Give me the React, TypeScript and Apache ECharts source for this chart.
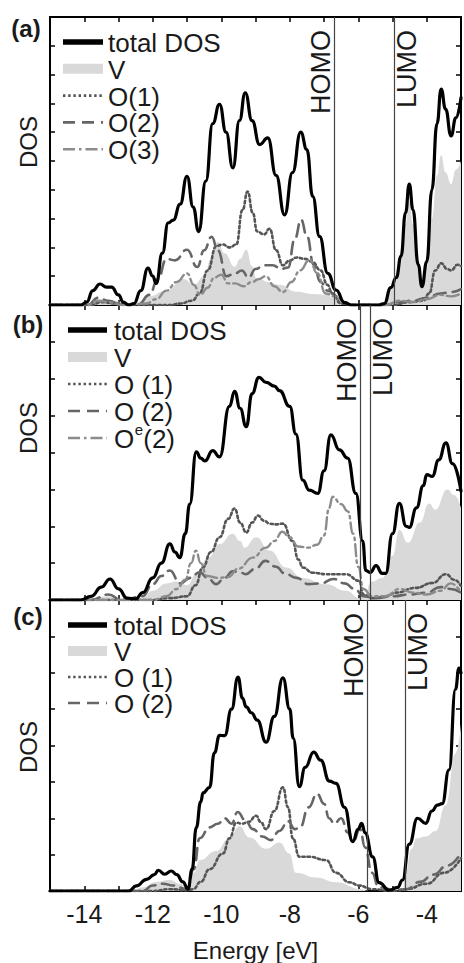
import React, { useEffect, useRef } from "react";
import * as echarts from "echarts";

const FONT = "'Liberation Sans', Arial, Helvetica, sans-serif";
const X_MIN = -15;
const X_MAX = -3;
const xTickLabels = ["-14", "-12", "-10", "-8", "-6", "-4"];
const yMaxByPanel = [10, 8, 8];
const panelLabels = ["(a)", "(b)", "(c)"];

// HOMO / LUMO energies per panel
const levelsA = [-6.71, -4.96];
const levelsB = [-5.94, -5.65];
const levelsC = [-5.74, -4.64];

// ---------- panel (a) ----------
const aTotal = [
  [-15, 0], [-14.1, 0], [-13.93, 0.1], [-13.75, 0.5], [-13.54, 0.73], [-13.35, 0.62], [-13.2, 0.62],
  [-13.0, 0.35], [-12.86, 0.1], [-12.7, 0], [-12.55, 0.05], [-12.35, 0.5], [-12.14, 1.28], [-12.0, 1.0],
  [-11.9, 0.75], [-11.72, 1.8], [-11.55, 2.85], [-11.4, 2.95], [-11.2, 3.5], [-11.0, 4.47], [-10.82, 3.4],
  [-10.66, 2.55], [-10.45, 4.3], [-10.25, 6.3], [-10.05, 6.97], [-9.86, 6.0], [-9.66, 4.76], [-9.47, 6.4],
  [-9.3, 7.37], [-9.1, 6.4], [-8.88, 5.57], [-8.64, 5.8], [-8.4, 4.5], [-8.15, 3.13], [-7.92, 4.6],
  [-7.68, 6.0], [-7.5, 5.4], [-7.33, 3.77], [-7.13, 2.38], [-6.89, 1.1], [-6.65, 0.52], [-6.4, 0.08],
  [-6.2, 0], [-5.4, 0], [-5.24, 0.05], [-5.05, 0.6], [-4.89, 0.95], [-4.75, 1.7], [-4.62, 3.2],
  [-4.51, 4.2], [-4.4, 3.3], [-4.25, 1.4], [-4.14, 0.64], [-4.0, 1.5], [-3.85, 4.0], [-3.7, 6.3],
  [-3.58, 7.5], [-3.45, 6.8], [-3.29, 5.87], [-3.15, 6.5], [-3.0, 7.2],
];
const aV = [
  [-15, 0], [-13.9, 0], [-13.5, 0.2], [-13.1, 0.15], [-12.8, 0], [-12.4, 0.05], [-12.1, 0.3],
  [-11.6, 0.5], [-11.1, 0.9], [-10.8, 0.7], [-10.5, 1.0], [-10.3, 1.6], [-10.1, 2.2], [-9.9, 1.8],
  [-9.61, 1.33], [-9.45, 1.6], [-9.27, 1.92], [-9.1, 1.35], [-8.98, 0.95], [-8.6, 0.8], [-8.3, 0.7],
  [-7.81, 0.46], [-7.3, 0.38], [-6.94, 0.35], [-6.7, 0.25], [-6.4, 0.05], [-6.2, 0], [-5.4, 0],
  [-5.24, 0.05], [-5.05, 0.55], [-4.89, 0.85], [-4.75, 1.5], [-4.62, 2.8], [-4.51, 3.6], [-4.4, 2.8],
  [-4.25, 1.2], [-4.14, 0.6], [-4.0, 1.3], [-3.85, 3.0], [-3.7, 4.5], [-3.58, 5.2], [-3.45, 4.6],
  [-3.29, 4.2], [-3.15, 4.7], [-3.0, 5.0],
];
const aO1 = [
  [-15, 0], [-13.8, 0], [-13.5, 0.1], [-13.1, 0.05], [-12.5, 0], [-11.5, 0], [-11.2, 0.05],
  [-10.85, 0.15], [-10.63, 0.4], [-10.4, 1.2], [-10.14, 2.05], [-9.96, 2.1], [-9.75, 2.0], [-9.56, 2.1],
  [-9.38, 3.3], [-9.23, 3.94], [-9.08, 3.2], [-8.95, 2.55], [-8.75, 2.45], [-8.59, 2.65], [-8.4, 1.9],
  [-8.2, 1.38], [-8.0, 1.55], [-7.8, 1.65], [-7.55, 1.6], [-7.34, 1.5], [-7.1, 1.2], [-6.9, 0.7],
  [-6.76, 0.4], [-6.5, 0.05], [-6.2, 0], [-5.0, 0], [-4.5, 0.1], [-4.1, 0.15], [-3.93, 0.4],
  [-3.75, 1.2], [-3.58, 1.45], [-3.4, 1.25], [-3.29, 1.2], [-3.1, 1.4], [-3.0, 1.35],
];
const aO2 = [
  [-15, 0], [-13.9, 0], [-13.6, 0.25], [-13.3, 0.15], [-12.9, 0], [-12.4, 0.05], [-12.1, 0.35],
  [-11.85, 0.9], [-11.6, 1.6], [-11.35, 1.55], [-11.0, 1.92], [-10.7, 1.32], [-10.5, 1.9], [-10.28, 2.37],
  [-10.1, 1.9], [-9.85, 1.0], [-9.6, 1.1], [-9.4, 1.2], [-9.2, 0.95], [-9.0, 1.25], [-8.75, 1.38],
  [-8.5, 1.38], [-8.25, 1.25], [-8.05, 1.3], [-7.85, 2.3], [-7.67, 2.96], [-7.5, 2.4], [-7.3, 1.4],
  [-7.1, 0.8], [-6.9, 0.5], [-6.6, 0.3], [-6.4, 0.1], [-6.2, 0], [-5.2, 0], [-4.8, 0.1], [-4.4, 0.15],
  [-4.0, 0.25], [-3.6, 0.4], [-3.3, 0.45], [-3.0, 0.55],
];
const aO3 = [
  [-15, 0], [-13.9, 0], [-13.6, 0.15], [-13.3, 0.1], [-12.9, 0], [-12.2, 0.05], [-11.9, 0.2],
  [-11.6, 0.5], [-11.3, 0.8], [-11.0, 1.1], [-10.8, 0.7], [-10.62, 0.35], [-10.4, 0.6], [-10.2, 0.95],
  [-10.0, 1.05], [-9.8, 0.75], [-9.6, 0.75], [-9.35, 0.65], [-9.1, 0.8], [-8.9, 0.9], [-8.7, 1.0],
  [-8.45, 0.65], [-8.2, 0.45], [-7.95, 0.8], [-7.7, 1.2], [-7.42, 1.57], [-7.2, 1.1], [-6.95, 0.4],
  [-6.7, 0.3], [-6.4, 0.1], [-6.2, 0], [-5.2, 0], [-4.8, 0.15], [-4.4, 0.1], [-4.0, 0.2], [-3.6, 0.35],
  [-3.3, 0.3], [-3.0, 0.4],
];

// ---------- panel (b) ----------
const bTotal = [
  [-15, 0], [-14.1, 0], [-13.8, 0.1], [-13.5, 0.35], [-13.25, 0.57], [-13.0, 0.3], [-12.75, 0.05],
  [-12.5, 0.03], [-12.29, 0.2], [-12.0, 0.6], [-11.75, 1.0], [-11.5, 1.52], [-11.35, 1.3], [-11.21, 1.15],
  [-11.05, 1.8], [-10.92, 2.6], [-10.73, 4.02], [-10.6, 3.85], [-10.48, 3.77], [-10.25, 4.05],
  [-10.05, 3.88], [-9.76, 5.25], [-9.61, 5.66], [-9.45, 5.2], [-9.27, 4.7], [-9.1, 5.6], [-8.9, 6.04],
  [-8.69, 5.9], [-8.45, 5.8], [-8.3, 5.68], [-8.0, 5.25], [-7.82, 4.5], [-7.62, 3.25], [-7.43, 2.98],
  [-7.18, 2.89], [-7.0, 3.5], [-6.8, 4.48], [-6.55, 4.07], [-6.31, 3.85], [-6.07, 2.89], [-5.87, 1.6],
  [-5.78, 0.8], [-5.65, 0.75], [-5.48, 0.93], [-5.3, 0.72], [-5.2, 0.72], [-5.0, 1.8], [-4.8, 2.62],
  [-4.6, 2.0], [-4.51, 1.97], [-4.3, 2.5], [-4.1, 3.1], [-4.0, 3.4], [-3.84, 3.35], [-3.65, 3.8],
  [-3.44, 4.26], [-3.25, 3.7], [-3.0, 2.95],
];
const bV = [
  [-15, 0], [-13.9, 0], [-13.3, 0.1], [-12.8, 0], [-12.3, 0.05], [-12.0, 0.25], [-11.6, 0.45],
  [-11.3, 0.5], [-11.0, 0.4], [-10.7, 0.75], [-10.38, 1.15], [-10.05, 1.52], [-9.67, 1.8], [-9.45, 1.6],
  [-9.32, 1.42], [-8.98, 1.7], [-8.59, 1.34], [-8.1, 0.88], [-7.63, 0.6], [-6.94, 0.43], [-6.36, 0.25],
  [-5.95, 0.05], [-5.85, 0.1], [-5.6, 0.5], [-5.3, 0.6], [-5.0, 1.2], [-4.8, 1.9], [-4.55, 1.55],
  [-4.2, 2.1], [-3.93, 2.62], [-3.75, 2.45], [-3.4, 3.0], [-3.2, 2.85], [-3.0, 2.5],
];
const bO1 = [
  [-15, 0], [-12.0, 0], [-11.5, 0.05], [-11.0, 0.1], [-10.75, 0.4], [-10.54, 0.88], [-10.3, 1.3],
  [-10.05, 1.7], [-9.8, 2.2], [-9.61, 2.48], [-9.45, 2.1], [-9.27, 1.83], [-9.1, 2.1], [-8.93, 2.29],
  [-8.75, 2.15], [-8.59, 2.07], [-8.4, 2.05], [-8.2, 2.07], [-7.92, 1.6], [-7.75, 1.1], [-7.62, 0.88],
  [-7.33, 0.74], [-6.94, 0.7], [-6.36, 0.7], [-5.97, 0.52], [-5.85, 0.15], [-5.6, 0.05], [-5.2, 0.1],
  [-4.9, 0.2], [-4.32, 0.33], [-3.84, 0.46], [-3.44, 0.7], [-3.2, 0.55], [-3.0, 0.38],
];
const bO2 = [
  [-15, 0], [-13.8, 0], [-13.3, 0.15], [-12.9, 0], [-12.3, 0.1], [-12.0, 0.43], [-11.75, 0.65],
  [-11.5, 0.8], [-11.2, 0.45], [-10.9, 0.6], [-10.63, 0.75], [-10.4, 0.6], [-10.15, 0.43], [-9.9, 0.6],
  [-9.67, 0.78], [-9.45, 0.75], [-9.29, 0.7], [-9.0, 0.85], [-8.71, 1.06], [-8.4, 0.9], [-8.14, 0.72],
  [-7.8, 0.6], [-7.46, 0.43], [-7.1, 0.45], [-6.72, 0.57], [-6.4, 0.45], [-6.1, 0.3], [-5.85, 0.1],
  [-5.5, 0.05], [-5.0, 0.1], [-4.5, 0.15], [-4.0, 0.2], [-3.6, 0.35], [-3.3, 0.3], [-3.0, 0.2],
];
const bOe2 = [
  [-15, 0], [-12.0, 0], [-11.6, 0.1], [-11.3, 0.3], [-11.05, 0.55], [-10.88, 1.0], [-10.74, 1.34],
  [-10.6, 1.0], [-10.42, 0.65], [-10.1, 0.6], [-9.8, 0.62], [-9.5, 0.85], [-9.08, 1.15], [-8.7, 1.42],
  [-8.45, 1.6], [-8.22, 1.85], [-8.0, 1.7], [-7.75, 1.45], [-7.45, 1.42], [-7.2, 1.5], [-7.0, 1.75],
  [-6.85, 2.5], [-6.75, 2.8], [-6.5, 2.6], [-6.3, 2.4], [-6.15, 1.8], [-6.0, 0.9], [-5.85, 0.3],
  [-5.6, 0.1], [-5.2, 0.1], [-4.8, 0.3], [-4.4, 0.2], [-4.0, 0.15], [-3.6, 0.25], [-3.3, 0.45], [-3.0, 0.2],
];

// ---------- panel (c) ----------
const cTotal = [
  [-15, 0], [-12.7, 0], [-12.48, 0.14], [-12.18, 0.32], [-11.95, 0.45], [-11.84, 0.57], [-11.65, 0.46],
  [-11.46, 0.55], [-11.3, 0.45], [-11.12, 0.25], [-10.97, 0.05], [-10.85, 0.6], [-10.73, 1.74],
  [-10.6, 2.45], [-10.53, 2.7], [-10.34, 2.85], [-10.2, 3.8], [-10.05, 4.28], [-9.9, 4.27], [-9.7, 5.0],
  [-9.51, 5.88], [-9.38, 5.3], [-9.27, 5.06], [-9.12, 4.9], [-8.95, 4.7], [-8.69, 4.09], [-8.45, 4.8],
  [-8.2, 5.86], [-8.0, 5.0], [-7.9, 4.2], [-7.72, 2.87], [-7.55, 3.4], [-7.3, 3.82], [-7.1, 3.6],
  [-6.84, 3.02], [-6.65, 2.96], [-6.4, 2.3], [-6.16, 1.36], [-6.0, 1.7], [-5.9, 1.86], [-5.8, 1.6],
  [-5.58, 0.94], [-5.39, 0.23], [-5.1, 0.02], [-4.85, 0.1], [-4.71, 0.3], [-4.51, 1.29], [-4.27, 2.0],
  [-4.03, 1.86], [-3.85, 2.2], [-3.69, 2.36], [-3.55, 2.4], [-3.35, 3.33], [-3.16, 5.55], [-3.06, 6.13],
  [-3.0, 6.0],
];
const cV = [
  [-15, 0], [-12.6, 0], [-12.3, 0.1], [-11.9, 0.25], [-11.5, 0.3], [-11.2, 0.2], [-10.95, 0.05],
  [-10.8, 0.5], [-10.63, 0.85], [-10.15, 1.1], [-9.76, 1.45], [-9.47, 1.78], [-9.18, 1.47], [-8.69, 1.16],
  [-8.3, 1.33], [-8.01, 1.03], [-7.82, 0.5], [-7.24, 0.37], [-6.65, 0.24], [-5.9, 0.05], [-5.7, 0],
  [-4.7, 0], [-4.62, 0.5], [-4.45, 1.15], [-4.3, 1.45], [-4.03, 1.5], [-3.74, 1.65], [-3.45, 2.36],
  [-3.16, 3.78], [-3.0, 4.6],
];
const cO1 = [
  [-15, 0], [-12.0, 0], [-11.5, 0.05], [-11.0, 0.02], [-10.82, 0.05], [-10.6, 0.25], [-10.34, 0.6],
  [-9.95, 1.03], [-9.76, 1.45], [-9.56, 1.88], [-9.4, 1.85], [-9.2, 1.9], [-8.98, 2.07], [-8.85, 1.9],
  [-8.69, 1.7], [-8.45, 2.2], [-8.2, 2.85], [-8.05, 2.3], [-7.91, 1.45], [-7.72, 0.94], [-7.43, 0.94],
  [-6.94, 0.85], [-6.65, 0.5], [-6.26, 0.24], [-5.97, 0.15], [-5.6, 0.05], [-5.0, 0], [-4.6, 0.05],
  [-4.0, 0.2], [-3.5, 0.5], [-3.0, 0.9],
];
const cO2 = [
  [-15, 0], [-12.3, 0], [-12.0, 0.15], [-11.7, 0.2], [-11.4, 0.15], [-11.0, 0.05], [-10.8, 0.6],
  [-10.63, 1.45], [-10.34, 1.75], [-10.1, 1.85], [-9.9, 2.0], [-9.7, 1.85], [-9.52, 2.17], [-9.3, 1.95],
  [-9.08, 1.7], [-8.8, 1.5], [-8.55, 1.4], [-8.3, 1.65], [-8.05, 1.92], [-7.85, 1.7], [-7.7, 1.75],
  [-7.45, 2.3], [-7.2, 2.67], [-7.0, 2.4], [-6.85, 2.0], [-6.7, 1.85], [-6.5, 2.0], [-6.3, 1.6],
  [-6.16, 1.34], [-5.95, 1.7], [-5.8, 1.2], [-5.6, 0.5], [-5.4, 0.1], [-4.9, 0.02], [-4.6, 0.05],
  [-4.2, 0.25], [-3.8, 0.45], [-3.4, 0.7], [-3.0, 1.05],
];

const STYLE = {
  total: { color: "#000", width: 3.2, type: "solid" as any },
  o1: { color: "#555", width: 2.6, type: [2.4, 2.8] as any },
  o2: { color: "#666", width: 2.6, type: [12, 7] as any },
  o3: { color: "#8c8c8c", width: 2.4, type: [12, 4, 2.5, 4] as any },
};
const V_FILL = "#d9d9d9";
const TEXT = "#1a1a1a";
const LEG_FONT = 26;

const GRIDS = [
  { top: 17, height: 288 },
  { top: 305, height: 295 },
  { top: 600, height: 302 },
];

function lineSeries(name: string, data: number[][], gi: number, st: any, z: number) {
  return {
    name,
    type: "line",
    xAxisIndex: gi * 2,
    yAxisIndex: gi * 2,
    data,
    showSymbol: false,
    symbol: "none",
    smooth: 0.5,
    smoothMonotone: "x",
    clip: true,
    z,
    lineStyle: { color: st.color, width: st.width, type: st.type, cap: "round", join: "round" },
  };
}

function areaSeries(name: string, data: number[][], gi: number) {
  return {
    name,
    type: "line",
    xAxisIndex: gi * 2,
    yAxisIndex: gi * 2,
    data,
    showSymbol: false,
    symbol: "none",
    smooth: 0.5,
    smoothMonotone: "x",
    clip: true,
    z: 1,
    lineStyle: { width: 0, color: V_FILL },
    areaStyle: { color: V_FILL, opacity: 1 },
  };
}

function levelMarks(levels: number[]) {
  return {
    silent: true,
    symbol: ["none", "none"],
    animation: false,
    lineStyle: { color: "#444", width: 1.2, type: "solid" },
    label: {
      show: true,
      fontSize: 27,
      fontFamily: FONT,
      color: TEXT,
      distance: 2,
      padding: [0, 11, 0, 0],
      lineHeight: 22,
    },
    emphasis: { disabled: true },
    data: [
      { xAxis: levels[0], label: { position: "insideEndTop", formatter: "HOMO" } },
      { xAxis: levels[1], label: { position: "insideEndBottom", formatter: "LUMO" } },
    ],
  };
}

// legend definition per panel: [row label, style key]; "^" marks a superscript part
const legendA = [["total DOS", "total"], ["V", "v"], ["O(1)", "o1"], ["O(2)", "o2"], ["O(3)", "o3"]];
const legendB = [["total DOS", "total"], ["V", "v"], ["O (1)", "o1"], ["O (2)", "o2"], ["O^e^(2)", "o3"]];
const legendC = [["total DOS", "total"], ["V", "v"], ["O (1)", "o1"], ["O (2)", "o2"]];

function plainText(text: string, x: number, y: number, size: number, align = "left") {
  return {
    type: "text",
    x,
    y,
    style: {
      text,
      font: `${size}px ${FONT}`,
      fontSize: size,
      fontFamily: FONT,
      fill: TEXT,
      lineHeight: Math.round(size * 0.8),
      align,
      verticalAlign: "middle",
      textAlign: align,
      textVerticalAlign: "middle",
    },
  };
}

function legendGraphics(rows: string[][], x0: number, x1: number, tx: number, y0: number, step: number) {
  const els: any[] = [];
  rows.forEach(([label, key], i) => {
    const y = y0 + i * step;
    if (key === "v") {
      els.push({ type: "rect", shape: { x: x0, y: y - 5, width: x1 - x0, height: 10 }, style: { fill: V_FILL } });
    } else {
      const st = (STYLE as any)[key];
      els.push({
        type: "line",
        shape: { x1: x0, y1: y, x2: x1, y2: y },
        style: {
          stroke: st.color,
          lineWidth: key === "total" ? 5.5 : st.width,
          lineDash: Array.isArray(st.type) ? st.type : null,
        },
      });
    }
    if (label.includes("^")) {
      const [base, sup, rest] = label.split("^");
      const wBase = LEG_FONT * 0.778;
      els.push(plainText(base, tx, y + 1, LEG_FONT));
      els.push(plainText(sup, tx + wBase + 0.5, y - 9, 15));
      els.push(plainText(rest, tx + wBase + 9, y + 1, LEG_FONT));
    } else {
      els.push(plainText(label, tx, y + 1, LEG_FONT));
    }
  });
  return els;
}

function textEl(text: string, x: number, y: number, size: number, bold: boolean, rot = 0) {
  return {
    type: "text",
    x,
    y,
    rotation: rot,
    style: {
      text,
      font: `${bold ? "bold " : ""}${size}px ${FONT}`,
      fontSize: size,
      fontWeight: bold ? "bold" : "normal",
      fontFamily: FONT,
      fill: TEXT,
      align: "center",
      verticalAlign: "middle",
      textAlign: "center",
      textVerticalAlign: "middle",
    },
  };
}

export default function App() {
  const ref = useRef<HTMLDivElement>(null);
  useEffect(() => {
    if (!ref.current) return;
    const chart = echarts.init(ref.current, undefined, { renderer: "svg" });

    const grid = GRIDS.map((g) => ({
      left: 50,
      right: 3,
      top: g.top,
      height: g.height,
      show: true,
      borderColor: "#000",
      borderWidth: 2,
      backgroundColor: "transparent",
    }));

    const xAxis: any[] = [];
    const yAxis: any[] = [];
    GRIDS.forEach((_, gi) => {
      const isLast = gi === GRIDS.length - 1;
      ["bottom", "top"].forEach((pos) => {
        xAxis.push({
          type: "value",
          gridIndex: gi,
          position: pos,
          min: X_MIN,
          max: X_MAX,
          interval: 1,
          axisLine: { show: true, onZero: false, lineStyle: { color: "#000", width: 2 } },
          axisTick: { show: true, inside: true, length: 5, lineStyle: { color: "#000", width: 1.5 } },
          splitLine: { show: false },
          axisLabel: {
            show: isLast && pos === "bottom",
            fontSize: 25,
            fontFamily: FONT,
            color: TEXT,
            margin: 10,
            formatter: (v: number) => (xTickLabels.includes(String(v)) ? String(v) : ""),
          },
          name: isLast && pos === "bottom" ? "Energy [eV]" : "",
          nameLocation: "middle",
          nameGap: 47,
          nameTextStyle: { fontSize: 24, fontFamily: FONT, color: TEXT },
        });
      });
      ["left", "right"].forEach((pos) => {
        yAxis.push({
          type: "value",
          gridIndex: gi,
          position: pos,
          min: 0,
          max: yMaxByPanel[gi],
          interval: 1,
          axisLine: { show: true, onZero: false, lineStyle: { color: "#000", width: 2 } },
          axisTick: { show: true, inside: true, length: 5, lineStyle: { color: "#000", width: 1.5 } },
          splitLine: { show: false },
          axisLabel: { show: false },
        });
      });
    });

    const series: any[] = [
      areaSeries("V", aV, 0),
      lineSeries("O(1)", aO1, 0, STYLE.o1, 2),
      lineSeries("O(2)", aO2, 0, STYLE.o2, 2),
      lineSeries("O(3)", aO3, 0, STYLE.o3, 2),
      { ...lineSeries("total DOS", aTotal, 0, STYLE.total, 3), markLine: levelMarks(levelsA) },

      areaSeries("V", bV, 1),
      lineSeries("O (1)", bO1, 1, STYLE.o1, 2),
      lineSeries("O (2)", bO2, 1, STYLE.o2, 2),
      lineSeries("Oe(2)", bOe2, 1, STYLE.o3, 2),
      { ...lineSeries("total DOS", bTotal, 1, STYLE.total, 3), markLine: levelMarks(levelsB) },

      areaSeries("V", cV, 2),
      lineSeries("O (1)", cO1, 2, STYLE.o1, 2),
      lineSeries("O (2)", cO2, 2, STYLE.o2, 2),
      { ...lineSeries("total DOS", cTotal, 2, STYLE.total, 3), markLine: levelMarks(levelsC) },
    ];

    const graphic: any[] = [
      textEl(panelLabels[0], 26, 28, 24, true),
      textEl(panelLabels[1], 28, 324, 24, true),
      textEl(panelLabels[2], 28, 616, 24, true),
      textEl("DOS", 28, 142, 24, false, Math.PI / 2),
      textEl("DOS", 28, 428, 24, false, Math.PI / 2),
      textEl("DOS", 28, 747, 24, false, Math.PI / 2),
      ...legendGraphics(legendA, 63, 103, 108, 42, 26.8),
      ...legendGraphics(legendB, 68, 107, 114, 330, 27),
      ...legendGraphics(legendC, 68, 107, 114, 625, 26),
    ];

    chart.setOption({
      animation: false,
      backgroundColor: "#fff",
      grid,
      xAxis,
      yAxis,
      series,
      graphic,
    });
    return () => chart.dispose();
  }, []);

  return (
    <div
      ref={ref}
      style={{ position: "absolute", left: 0, top: 0, width: 464, height: 963, background: "#fff" }}
    />
  );
}
